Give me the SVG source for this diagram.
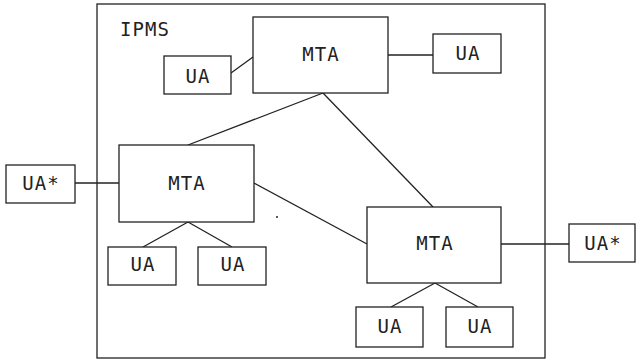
<svg xmlns="http://www.w3.org/2000/svg" width="636" height="361" viewBox="0 0 636 361">
<style>
.b{fill:#fff;stroke:#222;stroke-width:1.3}
.c line{stroke:#222;stroke-width:1.3}
text{font-family:"DejaVu Sans Mono","Liberation Mono",monospace;font-size:19px;fill:#222;text-anchor:middle;letter-spacing:1px}
</style>
<rect width="636" height="361" fill="#fff"/>
<g id="ipms"><rect class="b" x="97" y="4" width="448" height="354"/><text x="145" y="36">IPMS</text></g>
<g class="c" id="connectors">
<line x1="231" y1="73" x2="253" y2="57"/>
<line x1="388" y1="55" x2="433" y2="55"/>
<line x1="323" y1="93" x2="188" y2="145"/>
<line x1="323" y1="93" x2="433" y2="207"/>
<line x1="75" y1="183" x2="119" y2="183"/>
<line x1="188" y1="222" x2="143" y2="247"/>
<line x1="188" y1="222" x2="232" y2="247"/>
<line x1="254" y1="183" x2="367" y2="244"/>
<line x1="501" y1="244" x2="569" y2="244"/>
<line x1="435" y1="283" x2="391" y2="307"/>
<line x1="435" y1="283" x2="478" y2="307"/>
</g>
<g id="mta1"><rect class="b" x="253" y="17" width="135" height="76"/><text x="321" y="61">MTA</text></g>
<g id="ua1"><rect class="b" x="164" y="56" width="67" height="38"/><text x="198" y="83">UA</text></g>
<g id="ua2"><rect class="b" x="433" y="34" width="68" height="39"/><text x="468" y="60">UA</text></g>
<g id="mta2"><rect class="b" x="119" y="145" width="135" height="77"/><text x="187" y="190">MTA</text></g>
<g id="uastar1"><rect class="b" x="6" y="165" width="69" height="38"/><text x="41" y="190">UA*</text></g>
<g id="ua3"><rect class="b" x="108" y="247" width="68" height="38"/><text x="143" y="271">UA</text></g>
<g id="ua4"><rect class="b" x="198" y="247" width="68" height="38"/><text x="233" y="271">UA</text></g>
<g id="mta3"><rect class="b" x="367" y="207" width="134" height="76"/><text x="435" y="250">MTA</text></g>
<g id="uastar2"><rect class="b" x="569" y="224" width="66" height="38"/><text x="603" y="250">UA*</text></g>
<g id="ua5"><rect class="b" x="356" y="307" width="67" height="40"/><text x="390" y="333">UA</text></g>
<g id="ua6"><rect class="b" x="446" y="307" width="67" height="40"/><text x="480" y="333">UA</text></g>
<circle cx="277" cy="217" r="1" fill="#222"/>
</svg>
